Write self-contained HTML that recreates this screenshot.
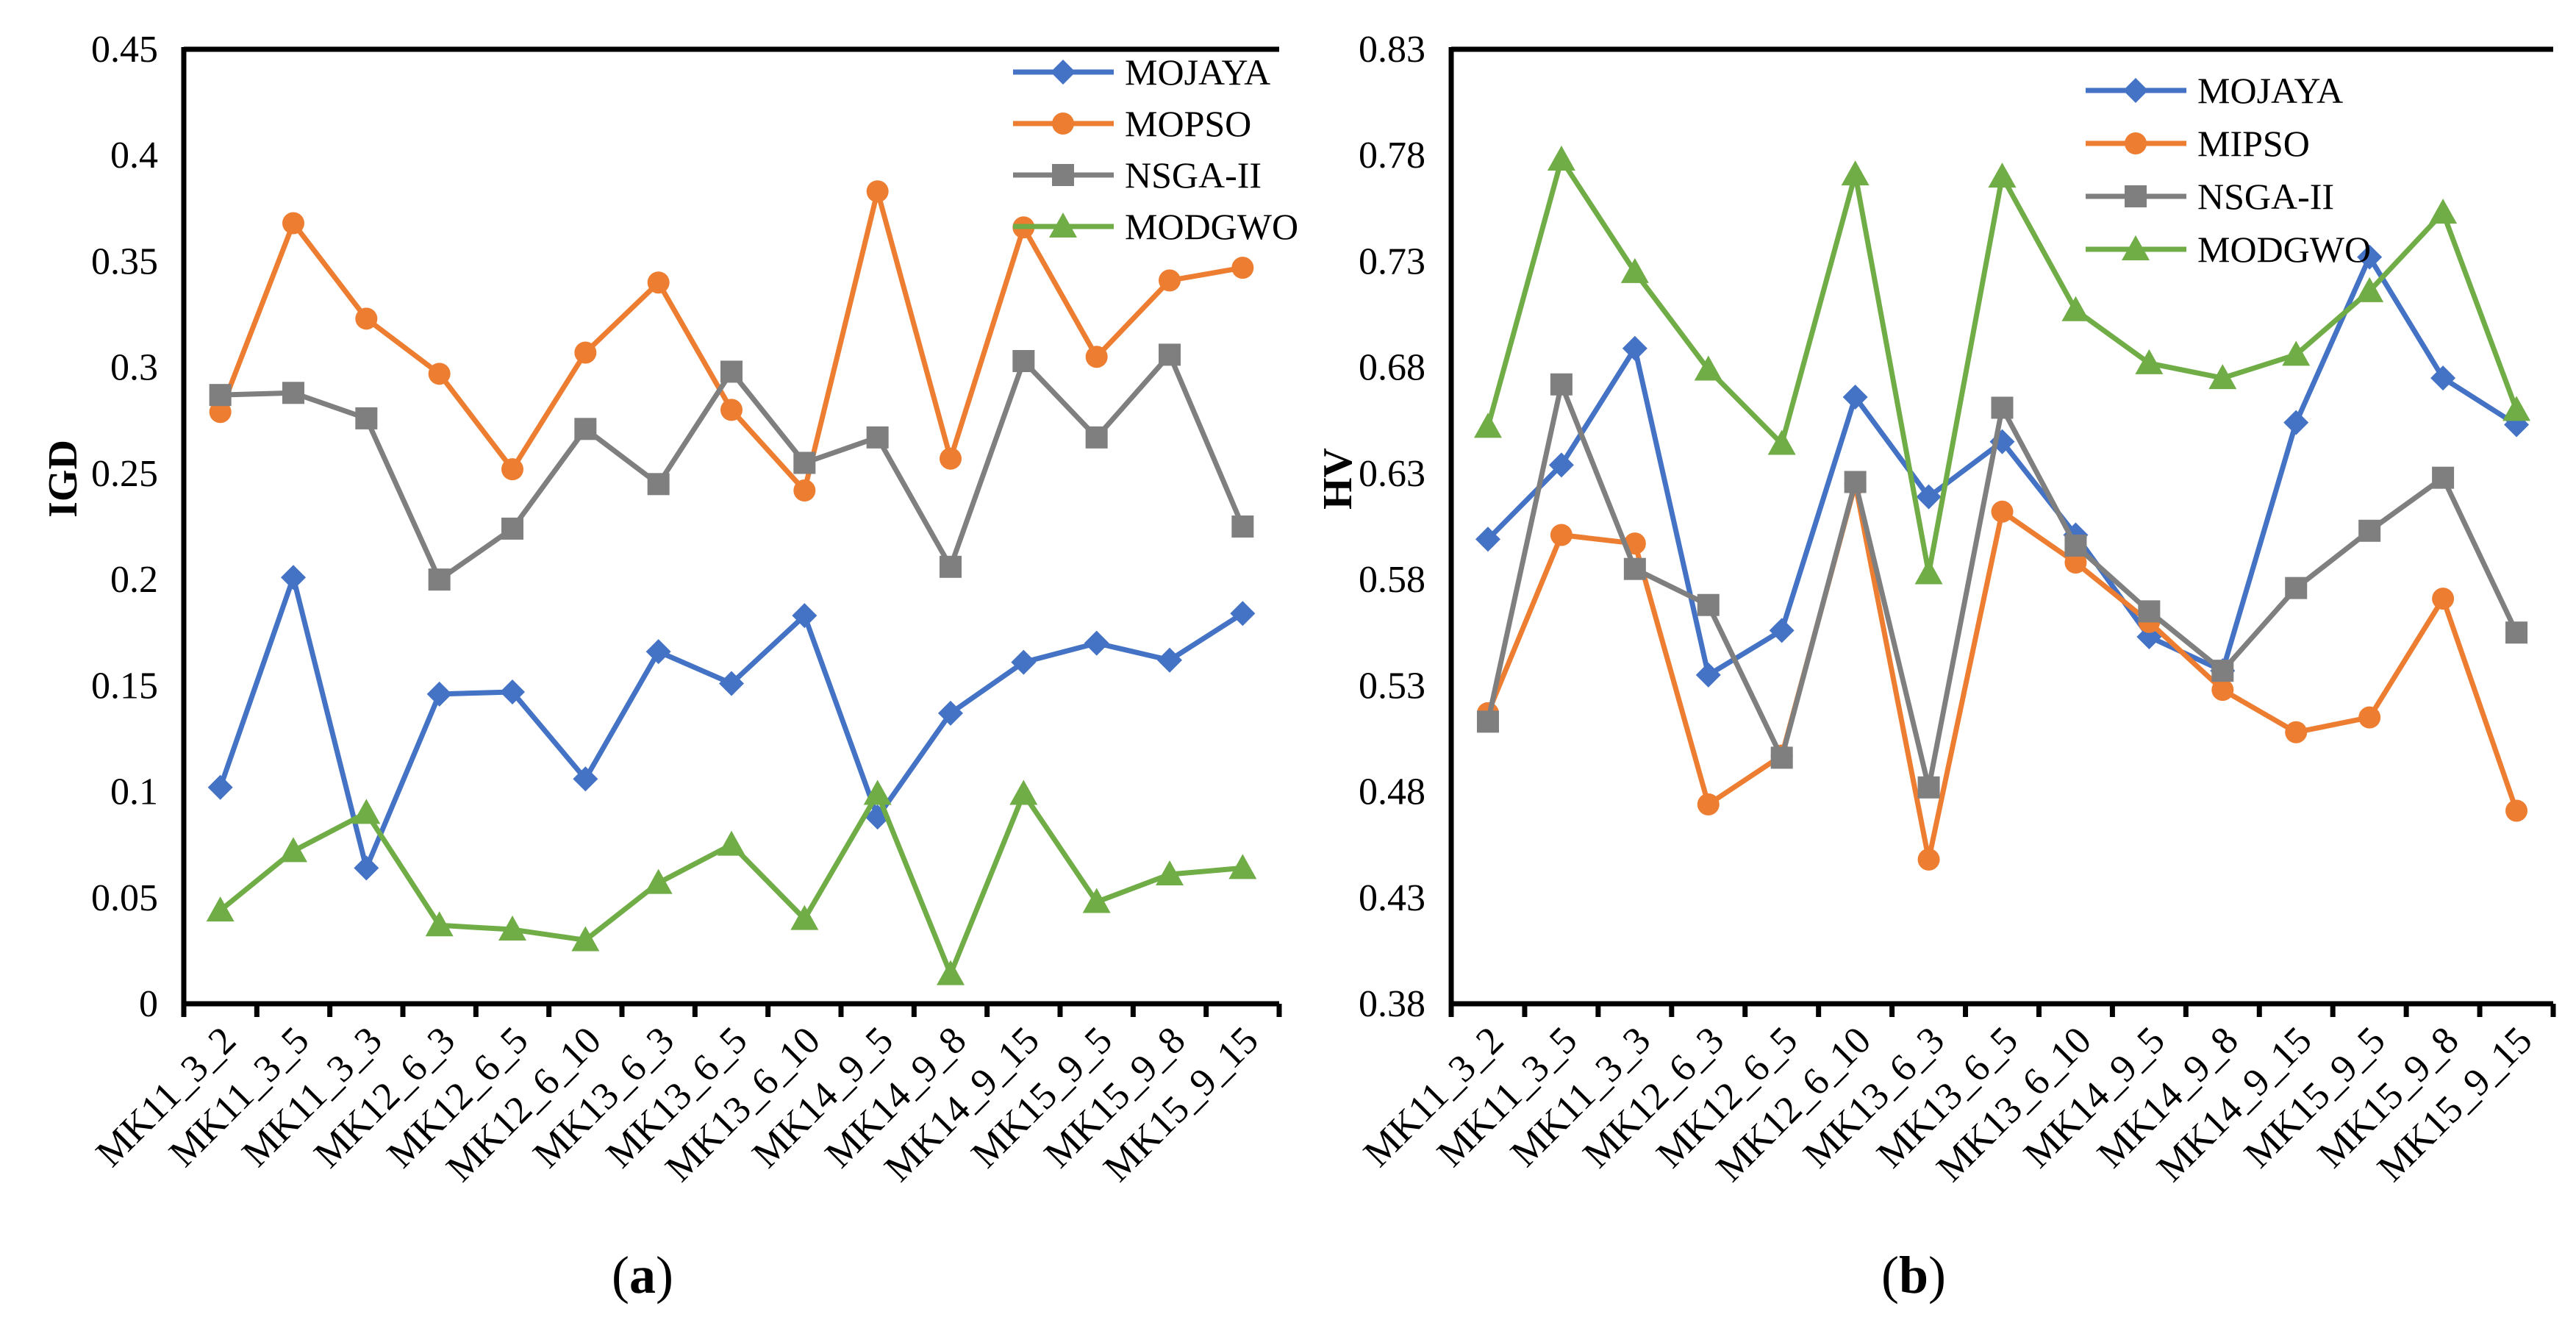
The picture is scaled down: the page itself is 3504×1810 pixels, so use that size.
<!DOCTYPE html>
<html><head><meta charset="utf-8"><style>
html,body{margin:0;padding:0;background:#fff;}
svg{display:block;}
svg text{font-family:"Liberation Serif","Times New Roman",serif;}
</style></head><body>
<svg id="fig" width="3504" height="1810" viewBox="0 0 3504 1810"></svg>
<script>
const categories=["MK11_3_2","MK11_3_5","MK11_3_3","MK12_6_3","MK12_6_5","MK12_6_10","MK13_6_3","MK13_6_5","MK13_6_10","MK14_9_5","MK14_9_8","MK14_9_15","MK15_9_5","MK15_9_8","MK15_9_15"];
const igdTicks=["0","0.05","0.1","0.15","0.2","0.25","0.3","0.35","0.4","0.45"];
const hvTicks=["0.38","0.43","0.48","0.53","0.58","0.63","0.68","0.73","0.78","0.83"];
const igdMojaya=[0.102,0.201,0.064,0.146,0.147,0.106,0.166,0.151,0.183,0.088,0.137,0.161,0.170,0.162,0.184];
const igdMopso=[0.279,0.368,0.323,0.297,0.252,0.307,0.340,0.280,0.242,0.383,0.257,0.366,0.305,0.341,0.347];
const igdNsga=[0.287,0.288,0.276,0.200,0.224,0.271,0.245,0.298,0.255,0.267,0.206,0.303,0.267,0.306,0.225];
const igdModgwo=[0.044,0.072,0.090,0.037,0.035,0.030,0.057,0.075,0.040,0.099,0.014,0.099,0.048,0.061,0.064];
const hvMojaya=[0.599,0.634,0.689,0.535,0.556,0.666,0.619,0.645,0.601,0.553,0.537,0.654,0.732,0.675,0.653];
const hvMipso=[0.517,0.601,0.597,0.474,0.497,0.625,0.448,0.612,0.588,0.560,0.528,0.508,0.515,0.571,0.471];
const hvNsga=[0.513,0.672,0.585,0.568,0.496,0.626,0.482,0.661,0.596,0.565,0.537,0.576,0.603,0.628,0.555];
const hvModgwo=[0.652,0.778,0.725,0.679,0.644,0.771,0.583,0.770,0.707,0.682,0.675,0.686,0.716,0.753,0.660];

const NS="http://www.w3.org/2000/svg";
const svg=document.getElementById('fig');
const FF='"Liberation Serif", "Times New Roman", serif';
function mk(tag,attrs,parent){const e=document.createElementNS(NS,tag);for(const k in attrs)e.setAttribute(k,attrs[k]);if(tag==='text')e.setAttribute('font-family',FF);(parent||svg).appendChild(e);return e;}

function marker(g,type,x,y,color){
  let m;
  if(type==='diamond')m=mk('polygon',{points:`${x},${y-17} ${x+17},${y} ${x},${y+17} ${x-17},${y}`,fill:color},g);
  else if(type==='circle')m=mk('circle',{cx:x,cy:y,r:15,fill:color},g);
  else if(type==='square')m=mk('rect',{x:x-15,y:y-15,width:30,height:30,fill:color},g);
  else m=mk('polygon',{points:`${x},${y-19} ${x+19},${y+15} ${x-19},${y+15}`,fill:color},g);
  return m;
}

function chart(cfg){
  const g=mk('g',{});
  
  
  const L=cfg.left,R=cfg.right,T=67,B=1365;
  const n=categories.length,bw=(R-L)/n;
  const xs=i=>L+bw*(i+0.5);
  const ys=v=>B-(v-cfg.min)/(cfg.max-cfg.min)*(B-T);
  cfg.ticks.forEach((t,i)=>{
    const v=cfg.min+(cfg.max-cfg.min)*i/(cfg.ticks.length-1);
    const tx=mk('text',{x:L-35,y:ys(v)+17,'text-anchor':'end','font-size':52,fill:'#000'},g);
    tx.textContent=t;
    
    
  });
  for(let i=0;i<=n;i++){
    const tk=mk('line',{x1:L+bw*i,x2:L+bw*i,y1:B,y2:B+18,stroke:'#000','stroke-width':7},g);
    
    
  }
  categories.forEach((c,i)=>{
    const x=xs(i)+24,y=1418;
    const tx=mk('text',{x:x,y:y,'text-anchor':'end','font-size':53,fill:'#000',transform:`rotate(-45 ${x} ${y})`},g);
    tx.textContent=c;
    
    
  });
  const ax=mk('path',{d:`M${L},${T} H${R} M${L},${T-3} V${B} H${R}`,stroke:'#000','stroke-width':7,fill:'none'},g);
  
  
  const yt=mk('text',{x:cfg.ytx,y:651,'text-anchor':'middle','font-size':56,'font-weight':'bold',transform:`rotate(-90 ${cfg.ytx} 651)`},g);
  yt.textContent=cfg.ytitle;
  
  
  cfg.series.forEach(s=>{
    const sg=mk('g',{},g);
    
    
    const pts=s.data.map((v,i)=>xs(i)+','+ys(v)).join(' ');
    const pl=mk('polyline',{points:pts,fill:'none',stroke:s.color,'stroke-width':7,'stroke-linejoin':'round'},sg);
    
    
    s.data.forEach((v,i)=>{
      const m=marker(sg,s.type,xs(i),ys(v),s.color);
      
      
    });
  });
  const lg=mk('g',{},g);
  
  
  cfg.series.forEach((s,i)=>{
    const y=cfg.legY+i*cfg.legDy;
    const e=mk('g',{},lg);
    
    
    mk('line',{x1:cfg.legX,x2:cfg.legX+137,y1:y,y2:y,stroke:s.color,'stroke-width':7},e);
    marker(e,s.type,cfg.legX+68,y,s.color);
    const t=mk('text',{x:cfg.legX+152,y:y+17,'font-size':50,fill:'#000'},e);
    t.textContent=s.label;
  });
  const cap=mk('text',{x:cfg.capX,y:1758,'text-anchor':'middle','font-size':72},g);
  
  
  cap.appendChild(document.createTextNode('('));
  const b=mk('tspan',{'font-weight':'bold'},cap);b.textContent=cfg.cap;
  cap.appendChild(document.createTextNode(')'));
}

const C={blue:'#4472C4',orange:'#ED7D31',gray:'#7F7F7F',green:'#70AD47'};
chart({name:'igd-chart',left:250,right:1740,min:0,max:0.45,ticks:igdTicks,ytitle:'IGD',ytx:104,
  legX:1378,legY:98,legDy:70,capX:874,cap:'a',
  series:[{label:'MOJAYA',data:igdMojaya,color:C.blue,type:'diamond'},
          {label:'MOPSO',data:igdMopso,color:C.orange,type:'circle'},
          {label:'NSGA-II',data:igdNsga,color:C.gray,type:'square'},
          {label:'MODGWO',data:igdModgwo,color:C.green,type:'triangle'}]});
chart({name:'hv-chart',left:1974,right:3473,min:0.38,max:0.83,ticks:hvTicks,ytitle:'HV',ytx:1838,
  legX:2837,legY:123,legDy:72,capX:2603,cap:'b',
  series:[{label:'MOJAYA',data:hvMojaya,color:C.blue,type:'diamond'},
          {label:'MIPSO',data:hvMipso,color:C.orange,type:'circle'},
          {label:'NSGA-II',data:hvNsga,color:C.gray,type:'square'},
          {label:'MODGWO',data:hvModgwo,color:C.green,type:'triangle'}]});
</script>
</body></html>
